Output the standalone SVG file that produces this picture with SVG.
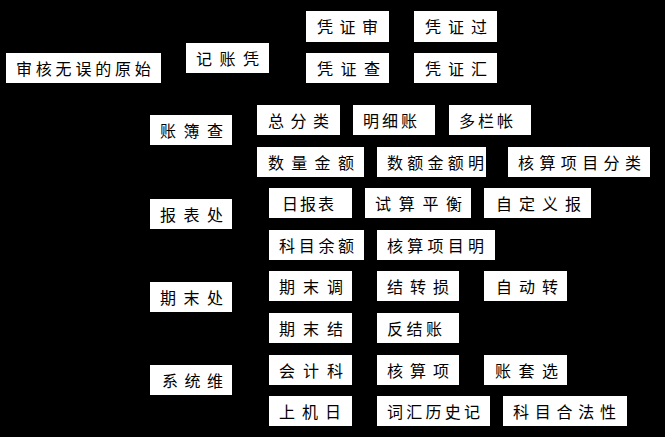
<svg xmlns="http://www.w3.org/2000/svg" width="665" height="437" viewBox="0 0 665 437">
<style>
.b{fill:#fff;stroke:none}
.t{font-family:"Noto Sans CJK SC","Noto Sans",sans-serif;font-size:16px;fill:#000}
</style>
<rect x="0" y="0" width="665" height="437" fill="#000"/>
<g id="connectors"></g>
<g id="n1"><rect class="b" x="6" y="53" width="155" height="30"/><text class="t" x="16" y="75" letter-spacing="3.8">审核无误的原始</text></g>
<g id="n2"><rect class="b" x="186" y="43" width="83" height="30"/><text class="t" x="196" y="65" letter-spacing="7.5">记账凭</text></g>
<g id="n3"><rect class="b" x="306" y="11" width="83" height="31"/><text class="t" x="317" y="33" letter-spacing="6.5">凭证审</text></g>
<g id="n4"><rect class="b" x="414" y="11" width="83" height="31"/><text class="t" x="425" y="33" letter-spacing="7">凭证过</text></g>
<g id="n5"><rect class="b" x="306" y="53" width="83" height="30"/><text class="t" x="317" y="75" letter-spacing="7.5">凭证查</text></g>
<g id="n6"><rect class="b" x="414" y="53" width="83" height="30"/><text class="t" x="425" y="75" letter-spacing="7">凭证汇</text></g>
<g id="n7"><rect class="b" x="150" y="115" width="82" height="30"/><text class="t" x="160" y="137" letter-spacing="7.5">账簿查</text></g>
<g id="n8"><rect class="b" x="257" y="105" width="83" height="30"/><text class="t" x="268" y="127" letter-spacing="6.5">总分类</text></g>
<g id="n9"><rect class="b" x="353" y="105" width="82" height="30"/><text class="t" x="363" y="127" letter-spacing="3">明细账</text></g>
<g id="n10"><rect class="b" x="449" y="105" width="82" height="30"/><text class="t" x="459" y="127" letter-spacing="3">多栏帐</text></g>
<g id="n11"><rect class="b" x="257" y="147" width="107" height="30"/><text class="t" x="268" y="169" letter-spacing="7.3">数量金额</text></g>
<g id="n12"><rect class="b" x="377" y="147" width="109" height="30"/><text class="t" x="387" y="169" letter-spacing="4.25">数额金额明</text></g>
<g id="n13"><rect class="b" x="508" y="147" width="142" height="30"/><text class="t" x="518" y="169" letter-spacing="5.4">核算项目分类</text></g>
<g id="n14"><rect class="b" x="150" y="199" width="82" height="30"/><text class="t" x="160" y="221" letter-spacing="7.5">报表处</text></g>
<g id="n15"><rect class="b" x="269" y="188" width="83" height="30"/><text class="t" x="282" y="210" letter-spacing="2">日报表</text></g>
<g id="n16"><rect class="b" x="365" y="188" width="106" height="30"/><text class="t" x="375" y="210" letter-spacing="7.7">试算平衡</text></g>
<g id="n17"><rect class="b" x="484" y="188" width="107" height="30"/><text class="t" x="496" y="210" letter-spacing="7">自定义报</text></g>
<g id="n18"><rect class="b" x="269" y="230" width="95" height="30"/><text class="t" x="279" y="252" letter-spacing="3.7">科目余额</text></g>
<g id="n19"><rect class="b" x="377" y="230" width="118" height="30"/><text class="t" x="387" y="252" letter-spacing="4.25">核算项目明</text></g>
<g id="n20"><rect class="b" x="150" y="282" width="82" height="30"/><text class="t" x="160" y="304" letter-spacing="7.5">期末处</text></g>
<g id="n21"><rect class="b" x="269" y="271" width="83" height="30"/><text class="t" x="279" y="293" letter-spacing="8">期末调</text></g>
<g id="n22"><rect class="b" x="377" y="271" width="82" height="30"/><text class="t" x="387" y="293" letter-spacing="7">结转损</text></g>
<g id="n23"><rect class="b" x="484" y="271" width="83" height="30"/><text class="t" x="496" y="293" letter-spacing="7">自动转</text></g>
<g id="n24"><rect class="b" x="269" y="313" width="83" height="30"/><text class="t" x="279" y="335" letter-spacing="8">期末结</text></g>
<g id="n25"><rect class="b" x="377" y="313" width="82" height="30"/><text class="t" x="387" y="335" letter-spacing="3.5">反结账</text></g>
<g id="n26"><rect class="b" x="150" y="365" width="82" height="30"/><text class="t" x="162" y="387" letter-spacing="6.5">系统维</text></g>
<g id="n27"><rect class="b" x="269" y="355" width="83" height="30"/><text class="t" x="279" y="377" letter-spacing="8">会计科</text></g>
<g id="n28"><rect class="b" x="377" y="355" width="82" height="30"/><text class="t" x="387" y="377" letter-spacing="7">核算项</text></g>
<g id="n29"><rect class="b" x="484" y="355" width="83" height="30"/><text class="t" x="495" y="377" letter-spacing="7.5">账套选</text></g>
<g id="n30"><rect class="b" x="269" y="396" width="83" height="30"/><text class="t" x="279" y="418" letter-spacing="7">上机日</text></g>
<g id="n31"><rect class="b" x="377" y="396" width="113" height="30"/><text class="t" x="387" y="418" letter-spacing="3.25">词汇历史记</text></g>
<g id="n32"><rect class="b" x="503" y="396" width="124" height="30"/><text class="t" x="513" y="418" letter-spacing="5.75">科目合法性</text></g>
</svg>
